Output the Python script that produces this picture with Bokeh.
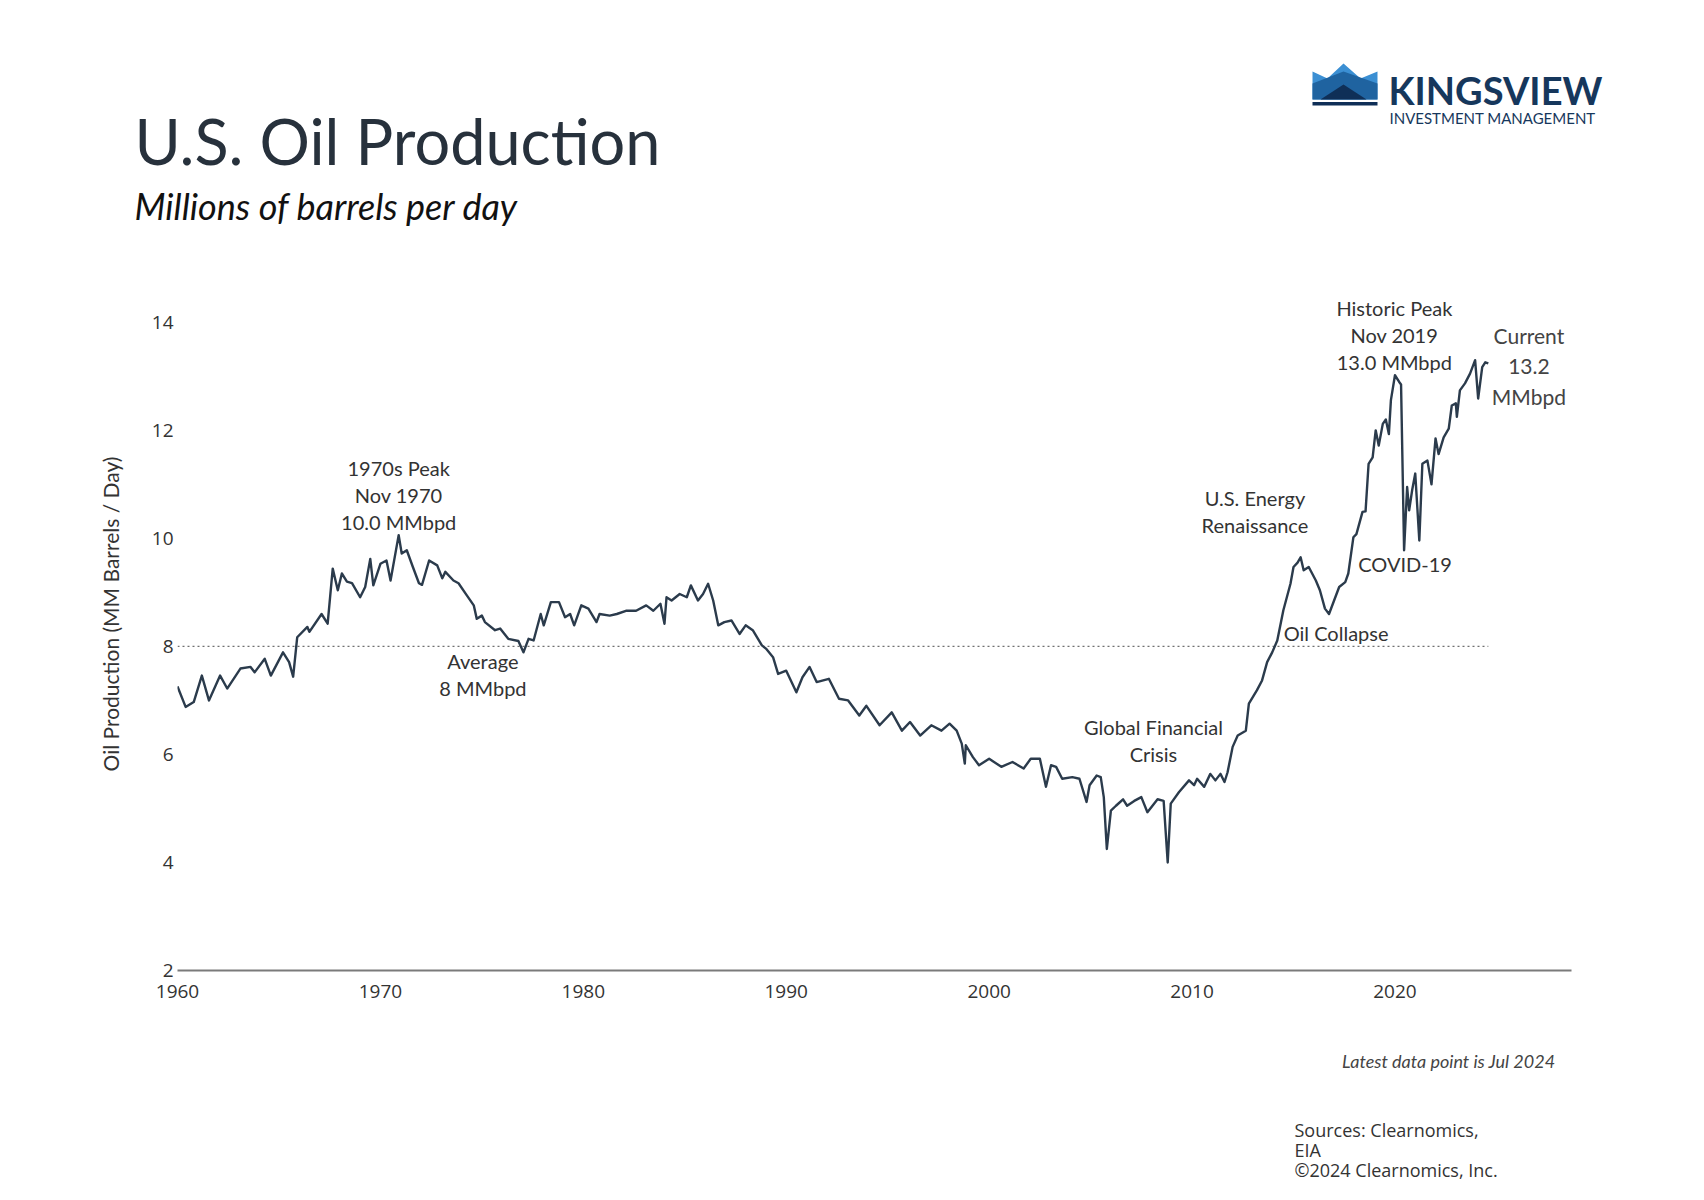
from bokeh.plotting import figure
from bokeh.layouts import column
from bokeh.models import ColumnDataSource, Range1d, FixedTicker
from bokeh.core.properties import value
from bokeh.embed import file_html
from bokeh.resources import INLINE

# ---------------- data ----------------
years = [
    1960.0, 1960.4, 1960.8, 1961.2, 1961.55, 1962.1, 1962.45, 1963.1, 1963.6, 1963.8,
    1964.3, 1964.6, 1965.2, 1965.5, 1965.7, 1965.9, 1966.4, 1966.5, 1967.1, 1967.4,
    1967.65, 1967.9, 1968.1, 1968.35, 1968.6, 1969.0, 1969.25, 1969.5, 1969.65, 1970.0,
    1970.3, 1970.5, 1970.9, 1971.05, 1971.3, 1971.6, 1971.9, 1972.05, 1972.4, 1972.8,
    1973.05, 1973.2, 1973.6, 1973.85, 1974.25, 1974.6, 1974.75, 1975.0, 1975.15, 1975.65,
    1975.9, 1976.3, 1976.8, 1977.05, 1977.3, 1977.55, 1977.9, 1978.05, 1978.4, 1978.8,
    1979.1, 1979.35, 1979.55, 1979.9, 1980.25, 1980.65, 1980.8, 1981.3, 1981.65, 1982.1,
    1982.6, 1983.1, 1983.45, 1983.8, 1984.0, 1984.1, 1984.35, 1984.75, 1985.1, 1985.3,
    1985.65, 1985.9, 1986.15, 1986.4, 1986.65, 1986.95, 1987.3, 1987.7, 1988.0, 1988.35,
    1988.8, 1989.0, 1989.35, 1989.6, 1990.0, 1990.5, 1990.8, 1991.15, 1991.5, 1992.1,
    1992.6, 1993.05, 1993.6, 1993.95, 1994.6, 1995.2, 1995.7, 1996.1, 1996.6, 1997.15,
    1997.65, 1998.05, 1998.4, 1998.65, 1998.8, 1998.85, 1999.2, 1999.5, 2000.0, 2000.6,
    2001.15, 2001.7, 2002.05, 2002.5, 2002.8, 2003.05, 2003.3, 2003.6, 2004.1, 2004.45,
    2004.8, 2004.95, 2005.3, 2005.5, 2005.65, 2005.8, 2006.0, 2006.25, 2006.6, 2006.8,
    2007.15, 2007.5, 2007.8, 2008.3, 2008.6, 2008.8, 2008.95, 2009.35, 2009.85, 2010.1,
    2010.25, 2010.6, 2010.9, 2011.15, 2011.4, 2011.6, 2011.75, 2012.0, 2012.25, 2012.65,
    2012.8, 2013.2, 2013.45, 2013.7, 2013.95, 2014.2, 2014.5, 2014.85, 2015.0, 2015.2,
    2015.35, 2015.5, 2015.75, 2016.1, 2016.3, 2016.55, 2016.75, 2017.0, 2017.25, 2017.55,
    2017.7, 2017.95, 2018.1, 2018.4, 2018.55, 2018.7, 2018.9, 2019.05, 2019.2, 2019.4,
    2019.55, 2019.7, 2019.8, 2020.0, 2020.2, 2020.3, 2020.45, 2020.6, 2020.7, 2020.85,
    2021.0, 2021.2, 2021.35, 2021.6, 2021.8, 2022.0, 2022.15, 2022.4, 2022.65, 2022.8,
    2023.0, 2023.05, 2023.2, 2023.45, 2023.7, 2023.95, 2024.1, 2024.3, 2024.45, 2024.6,
]
production = [
    7.26, 6.88, 6.97, 7.46, 7.0, 7.46, 7.22, 7.59, 7.62, 7.52,
    7.77, 7.46, 7.89, 7.71, 7.44, 8.17, 8.36, 8.27, 8.6, 8.42,
    9.44, 9.04, 9.35, 9.2, 9.17, 8.91, 9.1, 9.62, 9.13, 9.53,
    9.59, 9.22, 10.06, 9.72, 9.78, 9.47, 9.17, 9.14, 9.59, 9.5,
    9.26, 9.38, 9.22, 9.17, 8.95, 8.76, 8.51, 8.57, 8.45, 8.3,
    8.33, 8.14, 8.1, 7.89, 8.14, 8.11, 8.6, 8.39, 8.82, 8.82,
    8.54, 8.6, 8.39, 8.76, 8.7, 8.45, 8.6, 8.57, 8.6, 8.66,
    8.66, 8.76, 8.66, 8.79, 8.42, 8.91, 8.85, 8.97, 8.91, 9.13,
    8.85, 8.97, 9.16, 8.85, 8.39, 8.45, 8.48, 8.23, 8.39, 8.3,
    8.02, 7.96, 7.8, 7.49, 7.55, 7.15, 7.43, 7.62, 7.34, 7.4,
    7.03, 7.0, 6.72, 6.9, 6.54, 6.78, 6.44, 6.6, 6.35, 6.54,
    6.44, 6.57, 6.44, 6.2, 5.83, 6.17, 5.95, 5.8, 5.92, 5.77,
    5.86, 5.74, 5.92, 5.92, 5.4, 5.8, 5.77, 5.55, 5.58, 5.55,
    5.12, 5.43, 5.61, 5.58, 5.21, 4.25, 4.96, 5.05, 5.17, 5.05,
    5.14, 5.21, 4.93, 5.17, 5.14, 4.0, 5.09, 5.3, 5.52, 5.43,
    5.55, 5.4, 5.64, 5.52, 5.64, 5.49, 5.67, 6.14, 6.35, 6.44,
    6.94, 7.19, 7.37, 7.71, 7.89, 8.11, 8.67, 9.16, 9.47, 9.55,
    9.65, 9.41, 9.47, 9.22, 9.04, 8.7, 8.6, 8.85, 9.1, 9.19,
    9.35, 10.02, 10.08, 10.49, 10.5, 11.38, 11.5, 12.0, 11.72, 12.12,
    12.2, 11.93, 12.56, 13.02, 12.9, 12.85, 9.78, 10.95, 10.52, 10.9,
    11.2, 9.96, 11.38, 11.44, 11.0, 11.85, 11.56, 11.87, 12.03, 12.46,
    12.5, 12.25, 12.74, 12.87, 13.05, 13.3, 12.59, 13.17, 13.26, 13.24,
]

x_ticks = [1960, 1970, 1980, 1990, 2000, 2010, 2020]
y_ticks = [2, 4, 6, 8, 10, 12, 14]

average_level = 8
average_span = [1960, 2024.6]

annot_text = [
    "1970s Peak\nNov 1970\n10.0 MMbpd",
    "Average\n8 MMbpd",
    "Global Financial\nCrisis",
    "U.S. Energy\nRenaissance",
    "Oil Collapse",
    "COVID-19",
    "Historic Peak\nNov 2019\n13.0 MMbpd",
]
annot_x = [1970.9, 1975.05, 2008.1, 2013.1, 2017.1, 2020.5, 2019.97]
annot_y = [10.8, 7.48, 6.25, 10.49, 8.25, 9.52, 13.76]

current_text = ["Current\n13.2\nMMbpd"]
current_x = [2026.6]
current_y = [13.2]

title_text = "U.S. Oil Production"
subtitle_text = "Millions of barrels per day"
note_text = "Latest data point is Jul 2024"
source_lines = ["Sources: Clearnomics,", "EIA", "\u00a92024 Clearnomics, Inc."]
brand_text = "KINGSVIEW"
brand_sub = "INVESTMENT MANAGEMENT"

W = 1704
TEXT = "#333333"
LINE = "#2b3b4c"
NAVY = "#16375c"


def blank(height, y0, y1):
    f = figure(width=W, height=height, output_backend="svg", toolbar_location=None,
               x_range=Range1d(0, W), y_range=Range1d(y0, y1),
               x_axis_type=None, y_axis_type=None, min_border=0)
    f.frame_align = False
    f.outline_line_color = None
    f.xgrid.visible = False
    f.ygrid.visible = False
    f.background_fill_color = "white"
    f.border_fill_color = "white"
    return f


# ---------------- header (pixel coordinates, y down) ----------------
head = blank(257, 257, 0)
head.text([134], [140], text=[title_text], text_font=value("Lato"), text_font_size="63px",
          text_color="#27313c", text_baseline="alphabetic")
head.text([134], [205], text=[subtitle_text], text_font=value("Lato"), text_font_size="36px",
          text_font_style="italic", text_color="#111111", text_baseline="alphabetic")
head.text([1388], [89], text=[brand_text], text_font=value("Lato"), text_font_size="38px",
          text_font_style="bold", text_color=NAVY, text_baseline="alphabetic")
head.text([1389], [117], text=[brand_sub], text_font=value("Lato"), text_font_size="15px",
          text_color=NAVY, text_baseline="alphabetic")
# crown logo
head.patches(
    xs=[[1312, 1327, 1343, 1360, 1377, 1377, 1312],
        [1312, 1343, 1377, 1377, 1312],
        [1320, 1343, 1366],
        [1312, 1377, 1377, 1312]],
    ys=[[71, 78, 63, 78, 71, 99, 99],
        [83, 71, 83, 99, 99],
        [99, 84, 99],
        [101.5, 101.5, 105, 105]],
    fill_color=["#3b8fd3", "#1f63a0", "#0f2f57", "#0f2f57"], line_color=None)

# ---------------- main chart ----------------
p = figure(width=W, height=753, output_backend="svg", toolbar_location=None,
           x_range=Range1d(1960, 2028.7), y_range=Range1d(2, 15.2),
           min_border_left=177, min_border_right=133,
           min_border_top=0, min_border_bottom=40)
p.frame_align = False
p.outline_line_color = None
p.background_fill_color = "white"
p.border_fill_color = "white"
p.xgrid.visible = False
p.ygrid.visible = False

xa = p.xaxis[0]
xa.ticker = FixedTicker(ticks=x_ticks)
xa.axis_line_color = "#7a7a7a"
xa.axis_line_width = 2
xa.major_tick_line_color = None
xa.minor_tick_line_color = None
xa.major_label_standoff = 8
xa.major_label_text_font = "Open Sans"
xa.major_label_text_font_size = "19px"
xa.major_label_text_color = TEXT

ya = p.yaxis[0]
ya.ticker = FixedTicker(ticks=y_ticks)
ya.axis_line_color = None
ya.major_tick_line_color = None
ya.minor_tick_line_color = None
ya.major_label_standoff = -2
ya.major_label_text_font = "Open Sans"
ya.major_label_text_font_size = "19px"
ya.major_label_text_color = TEXT
ya.axis_label = "Oil Production (MM Barrels / Day)"
ya.axis_label_text_font = "Lato"
ya.axis_label_text_font_style = "normal"
ya.axis_label_text_font_size = "21px"
ya.axis_label_text_color = TEXT
ya.axis_label_standoff = 26

p.line(average_span, [average_level, average_level], line_color="#707070",
       line_width=1.3, line_dash="2 3")

src = ColumnDataSource(dict(x=years, y=production))
p.line("x", "y", source=src, line_color=LINE, line_width=2.4, line_join="round")

asrc = ColumnDataSource(dict(x=annot_x, y=annot_y, t=annot_text))
p.text("x", "y", text="t", source=asrc, text_align="center", text_baseline="middle",
       text_font=value("Lato"), text_font_size="20px", text_color=TEXT,
       text_line_height=1.13)
csrc = ColumnDataSource(dict(x=current_x, y=current_y, t=current_text))
p.text("x", "y", text="t", source=csrc, text_align="center", text_baseline="middle",
       text_font=value("Lato"), text_font_size="21px", text_color="#444444",
       text_line_height=1.22)

# ---------------- footer (pixel coordinates, y down) ----------------
foot = blank(190, 1200, 1010)
foot.text([1555], [1060], text=[note_text], text_font=value("Lato"), text_font_size="18px",
          text_font_style="italic", text_color="#444444", text_align="right",
          text_baseline="alphabetic")
foot.text([1294, 1294, 1294], [1129, 1149, 1169], text=source_lines,
          text_font=value("Open Sans"), text_font_size="18px", text_color=TEXT,
          text_baseline="alphabetic")

layout = column(head, p, foot, spacing=0)
open("out.html", "w").write(file_html(layout, INLINE))
